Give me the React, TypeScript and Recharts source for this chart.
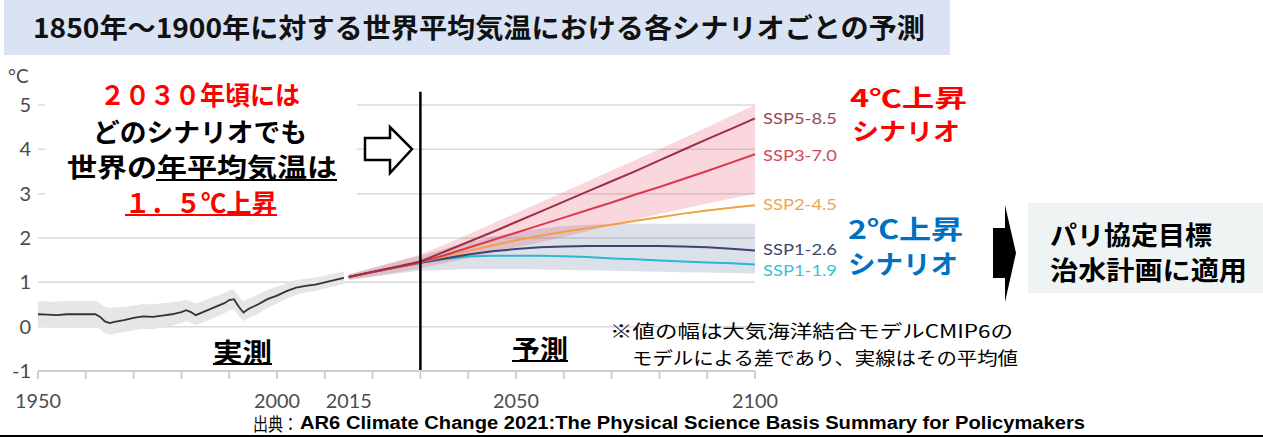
import React from 'react';
import {
  ComposedChart,
  Line,
  Area,
  XAxis,
  YAxis,
  CartesianGrid,
  ReferenceLine,
  LabelList,
} from 'recharts';

// Observed global mean temperature change (°C, relative to 1850-1900)
const observedYears = [
  1950, 1952, 1954, 1956, 1958, 1960, 1962, 1963, 1964, 1965, 1966, 1968, 1970,
  1972, 1974, 1976, 1978, 1980, 1981, 1982, 1983, 1985, 1987, 1989, 1990, 1991,
  1992, 1993, 1994, 1996, 1998, 2000, 2002, 2004, 2006, 2008, 2010, 2012, 2014,
];
const observedMean = [
  0.28, 0.27, 0.26, 0.28, 0.28, 0.28, 0.28, 0.22, 0.12, 0.08, 0.11, 0.15, 0.2,
  0.23, 0.22, 0.25, 0.28, 0.33, 0.37, 0.33, 0.26, 0.35, 0.44, 0.53, 0.6, 0.62,
  0.45, 0.32, 0.4, 0.5, 0.62, 0.7, 0.8, 0.88, 0.92, 0.95, 1.0, 1.05, 1.1,
];
const observedLow = [
  0.0, -0.01, -0.02, 0.0, 0.0, 0.0, 0.0, -0.06, -0.15, -0.18, -0.16, -0.12, -0.08,
  -0.05, -0.06, -0.02, 0.02, 0.08, 0.12, 0.09, 0.03, 0.12, 0.21, 0.3, 0.37, 0.39,
  0.24, 0.12, 0.19, 0.29, 0.42, 0.52, 0.63, 0.72, 0.77, 0.8, 0.86, 0.91, 0.97,
];
const observedHigh = [
  0.58, 0.57, 0.56, 0.58, 0.58, 0.58, 0.58, 0.52, 0.45, 0.42, 0.43, 0.45, 0.48,
  0.51, 0.5, 0.53, 0.55, 0.58, 0.61, 0.57, 0.52, 0.6, 0.68, 0.76, 0.82, 0.84,
  0.68, 0.56, 0.63, 0.72, 0.83, 0.9, 0.98, 1.05, 1.08, 1.11, 1.15, 1.2, 1.25,
];

// Scenario projections (CMIP6 multi-model mean)
const projectionYears = [
  2015, 2020, 2025, 2030, 2035, 2040, 2045, 2050, 2055, 2060, 2065, 2070, 2075,
  2080, 2085, 2090, 2095, 2100,
];
const ssp585 = [
  1.12, 1.24, 1.35, 1.47, 1.69, 1.91, 2.13, 2.36, 2.59, 2.82, 3.05, 3.28, 3.51,
  3.75, 3.99, 4.23, 4.46, 4.7,
];
const ssp370 = [
  1.12, 1.23, 1.34, 1.45, 1.61, 1.78, 1.95, 2.12, 2.29, 2.46, 2.63, 2.8, 2.98,
  3.15, 3.33, 3.51, 3.7, 3.89,
];
const ssp245 = [
  1.12, 1.23, 1.34, 1.45, 1.58, 1.71, 1.83, 1.95, 2.05, 2.14, 2.22, 2.3, 2.39,
  2.47, 2.55, 2.62, 2.68, 2.74,
];
const ssp126 = [
  1.12, 1.23, 1.34, 1.44, 1.54, 1.63, 1.7, 1.75, 1.79, 1.81, 1.82, 1.82, 1.82,
  1.82, 1.81, 1.79, 1.76, 1.72,
];
const ssp119 = [
  1.12, 1.23, 1.34, 1.44, 1.52, 1.58, 1.6, 1.6, 1.6, 1.59, 1.57, 1.54, 1.52,
  1.49, 1.47, 1.45, 1.43, 1.4,
];
// Model spread, high-emission scenario
const highRangeLow = [
  1.06, 1.14, 1.23, 1.32, 1.43, 1.55, 1.67, 1.79, 1.9, 2.02, 2.15, 2.3, 2.42,
  2.54, 2.66, 2.78, 2.89, 3.0,
];
const highRangeHigh = [
  1.18, 1.33, 1.48, 1.63, 1.85, 2.08, 2.32, 2.56, 2.8, 3.04, 3.28, 3.52, 3.76,
  4.0, 4.25, 4.5, 4.75, 5.0,
];
// Model spread, low-emission scenario
const lowRangeLow = [
  1.06, 1.12, 1.2, 1.26, 1.28, 1.3, 1.3, 1.3, 1.29, 1.28, 1.27, 1.26, 1.25, 1.24,
  1.23, 1.22, 1.21, 1.2,
];
const lowRangeHigh = [
  1.17, 1.32, 1.46, 1.6, 1.75, 1.9, 2.03, 2.13, 2.21, 2.27, 2.3, 2.32, 2.32, 2.32,
  2.32, 2.32, 2.32, 2.32,
];

const yTicks = [-1, 0, 1, 2, 3, 4, 5];
const xTicks = [
  1950, 1960, 1970, 1980, 1990, 2000, 2010, 2015, 2020, 2030, 2040, 2050, 2060,
  2070, 2080, 2090, 2100,
];
const xTickLabels = [1950, 2000, 2015, 2050, 2100];
const splitYear = 2030;

const scenarioNames = ['SSP5-8.5', 'SSP3-7.0', 'SSP2-4.5', 'SSP1-2.6', 'SSP1-1.9'];

type Row = {
  year: number;
  observed?: number;
  observedBand?: [number, number];
  ssp585?: number;
  ssp370?: number;
  ssp245?: number;
  ssp126?: number;
  ssp119?: number;
  highBand?: [number, number];
  lowBand?: [number, number];
};

const rows: Row[] = [
  ...observedYears.map((year, i) => ({
    year,
    observed: observedMean[i],
    observedBand: [observedLow[i], observedHigh[i]] as [number, number],
  })),
  ...projectionYears.map((year, i) => ({
    year,
    ssp585: ssp585[i],
    ssp370: ssp370[i],
    ssp245: ssp245[i],
    ssp126: ssp126[i],
    ssp119: ssp119[i],
    highBand: [highRangeLow[i], highRangeHigh[i]] as [number, number],
    lowBand: [lowRangeLow[i], lowRangeHigh[i]] as [number, number],
  })),
];
const lastIndex = rows.length - 1;

const JP = '"Noto Sans CJK JP", "Noto Sans", sans-serif';
const AXIS_FONT = 'Lato, "Open Sans", sans-serif';

const series = [
  { key: 'ssp585', name: scenarioNames[0], line: '#9b2f45', text: '#9a4656', dy: 0 },
  { key: 'ssp370', name: scenarioNames[1], line: '#de3550', text: '#cf4a5c', dy: 1 },
  { key: 'ssp245', name: scenarioNames[2], line: '#f2a040', text: '#eea64e', dy: -1 },
  { key: 'ssp126', name: scenarioNames[3], line: '#3a4478', text: '#3e4670', dy: -1 },
  { key: 'ssp119', name: scenarioNames[4], line: '#2bb8d4', text: '#3bbfd6', dy: 5 },
];

const XTick = (props: any) => {
  const { x, y, payload } = props;
  const v = payload.value as number;
  return (
    <g>
      {v % 10 === 0 && (
        <line x1={x} x2={x} y1={y} y2={y + 8} stroke="#cfcfcf" strokeWidth={2} />
      )}
      {xTickLabels.includes(v) && (
        <text
          x={x}
          y={y + 37}
          textAnchor="middle"
          fontFamily={AXIS_FONT}
          fontSize={19}
          fill="#4d4d4d"
          textLength={46}
          lengthAdjust="spacingAndGlyphs"
        >
          {v}
        </text>
      )}
    </g>
  );
};

const YTick = (props: any) => {
  const { x, y, payload } = props;
  return (
    <text
      x={x - 7}
      y={y + 7}
      textAnchor="end"
      fontFamily={AXIS_FONT}
      fontSize={20}
      fill="#4a4a4a"
    >
      {payload.value}
    </text>
  );
};

const endLabel = (name: string, color: string, dy: number) => (props: any) => {
  const { x, y, index } = props;
  if (index !== lastIndex || x == null || y == null) return null;
  return (
    <text
      x={x + 8}
      y={y + dy}
      dominantBaseline="central"
      fontFamily={AXIS_FONT}
      fontSize={15}
      fill={color}
      textLength={74}
      lengthAdjust="spacingAndGlyphs"
    >
      {name}
    </text>
  );
};

const T = (p: any) => (
  <text
    dominantBaseline="central"
    fontFamily={JP}
    lengthAdjust="spacingAndGlyphs"
    {...p}
  />
);

export default function App() {
  return (
    <div
      style={{
        position: 'absolute',
        left: 0,
        top: 0,
        width: 1263,
        height: 437,
        background: '#fff',
        overflow: 'hidden',
      }}
    >
      <ComposedChart
        width={1263}
        height={437}
        data={rows}
        margin={{ top: 105, right: 508, bottom: 36, left: 0 }}
      >
        <CartesianGrid vertical={false} stroke="#dadada" strokeWidth={1.5} />
        <XAxis
          dataKey="year"
          type="number"
          domain={[1950, 2100]}
          ticks={xTicks}
          interval={0}
          height={30}
          tickSize={0}
          tickMargin={0}
          tickLine={false}
          axisLine={{ stroke: '#cfcfcf', strokeWidth: 2 }}
          tick={<XTick />}
        />
        <YAxis
          type="number"
          domain={[-1, 5]}
          ticks={yTicks}
          interval={0}
          width={38}
          tickSize={0}
          tickMargin={0}
          tickLine={false}
          axisLine={false}
          tick={<YTick />}
        />
        <Area
          dataKey="observedBand"
          stroke="none"
          fill="#e6e6e6"
          fillOpacity={1}
          isAnimationActive={false}
          activeDot={false}
        />
        <Area
          dataKey="lowBand"
          stroke="none"
          fill="#5f7396"
          fillOpacity={0.22}
          isAnimationActive={false}
          activeDot={false}
        />
        <Area
          dataKey="highBand"
          stroke="none"
          fill="#e8394f"
          fillOpacity={0.2}
          isAnimationActive={false}
          activeDot={false}
        />
        <Line
          dataKey="observed"
          stroke="#333"
          strokeWidth={1.8}
          dot={false}
          activeDot={false}
          isAnimationActive={false}
        />
        {series
          .slice()
          .reverse()
          .map((s) => (
            <Line
              key={s.key}
              dataKey={s.key}
              stroke={s.line}
              strokeWidth={2}
              dot={false}
              activeDot={false}
              isAnimationActive={false}
            >
              <LabelList dataKey={s.key} content={endLabel(s.name, s.text, s.dy)} />
            </Line>
          ))}
        <ReferenceLine
          segment={[
            { x: splitYear, y: -1 },
            { x: splitYear, y: 5.3 },
          ]}
          stroke="#000"
          strokeWidth={2.5}
          ifOverflow="visible"
        />
      </ComposedChart>

      <svg
        width={1263}
        height={437}
        style={{ position: 'absolute', left: 0, top: 0, pointerEvents: 'none' }}
      >
        {/* title band */}
        <rect x={4} y={0} width={946} height={55} fill="#dae3f3" />
        <T x={33} y={26} fontSize={27} fontWeight={700} fill="#111" textLength={892}>
          1850年～1900年に対する世界平均気温における各シナリオごとの予測
        </T>
        <text x={8} y={83} fontFamily={AXIS_FONT} fontSize={19} fill="#4a4a4a">
          °C
        </text>

        {/* message block */}
        <rect x={45} y={68} width={312} height={152} fill="#fff" />
        <T x={100} y={93} fontSize={26} fontWeight={700} fill="#ff0000" textLength={200}>
          ２０３０年頃には
        </T>
        <T x={93} y={130} fontSize={26} fontWeight={700} fill="#000" textLength={214}>
          どのシナリオでも
        </T>
        <T x={67} y={165} fontSize={26} fontWeight={700} fill="#000" textLength={270}>
          世界の年平均気温は
        </T>
        <rect x={156} y={179} width={181} height={2} fill="#000" />
        <T x={125} y={201} fontSize={26} fontWeight={700} fill="#ff0000" textLength={152}>
          １．５℃上昇
        </T>
        <rect x={125} y={214} width={152} height={2} fill="#ff0000" />

        {/* outline arrow toward the projection period */}
        <polygon
          points="365,138 390,138 390,127 412,149 390,173 390,160 365,160"
          fill="#fff"
          stroke="#000"
          strokeWidth={2.5}
          strokeLinejoin="miter"
        />

        {/* period captions */}
        <T x={213} y={350} fontSize={26} fontWeight={700} fill="#000" textLength={59}>
          実測
        </T>
        <rect x={213} y={363} width={59} height={2} fill="#000" />
        <T x={512} y={347} fontSize={26} fontWeight={700} fill="#000" textLength={56}>
          予測
        </T>
        <rect x={512} y={360} width={56} height={2} fill="#000" />

        {/* note */}
        <T x={610} y={330} fontSize={18} fill="#000" textLength={403}>
          ※値の幅は大気海洋結合モデルCMIP6の
        </T>
        <T x={632} y={357} fontSize={18} fill="#000" textLength={386}>
          モデルによる差であり、実線はその平均値
        </T>

        {/* scenario groups */}
        <T x={850} y={96} fontSize={24} fontWeight={700} fill="#ff0000" textLength={117}>
          4℃上昇
        </T>
        <T x={852} y={129} fontSize={24} fontWeight={700} fill="#ff0000" textLength={108}>
          シナリオ
        </T>
        <T x={848} y={227} fontSize={26} fontWeight={700} fill="#0070c0" textLength={115}>
          2℃上昇
        </T>
        <T x={848} y={262} fontSize={26} fontWeight={700} fill="#0070c0" textLength={110}>
          シナリオ
        </T>

        {/* block arrow and target box */}
        <polygon
          points="993,228 1005,228 1005,205 1016,253 1005,302 1005,278 993,278"
          fill="#000"
        />
        <rect x={1028} y={203} width={235} height={90} fill="#eef4f4" />
        <T x={1050} y={233} fontSize={26} fontWeight={700} fill="#000" textLength={162}>
          パリ協定目標
        </T>
        <T x={1050} y={268} fontSize={26} fontWeight={700} fill="#000" textLength={197}>
          治水計画に適用
        </T>

        {/* source */}
        <T x={253} y={423} fontSize={18} fill="#000" textLength={45}>
          出典：
        </T>
        <text
          x={300}
          y={423}
          dominantBaseline="central"
          fontFamily='"Liberation Sans", Arial, sans-serif'
          fontSize={18}
          fontWeight={700}
          fill="#000"
          textLength={785}
          lengthAdjust="spacingAndGlyphs"
        >
          AR6 Climate Change 2021:The Physical Science Basis Summary for Policymakers
        </text>
        <rect x={0} y={435} width={1263} height={2} fill="#000" />
      </svg>
    </div>
  );
}
